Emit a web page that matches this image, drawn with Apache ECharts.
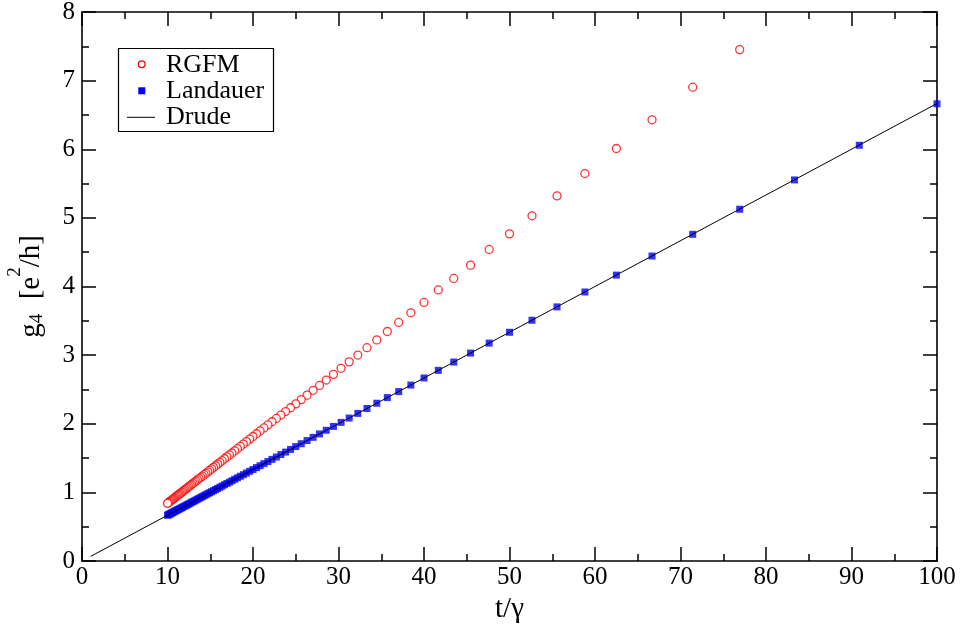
<!DOCTYPE html>
<html>
<head>
<meta charset="utf-8">
<title>g4 vs t/γ</title>
<script src="https://cdn.jsdelivr.net/npm/echarts@6/dist/echarts.min.js"></script>
<style>
  html, body { margin: 0; padding: 0; background: #fff; }
  #chart { width: 964px; height: 628px; }
</style>
</head>
<body>
<div id="chart"></div>
<script>
// t/γ sample points (γ = 0.010 ... 0.100)
const tOverGamma = [
  100.00, 90.91, 83.33, 76.92, 71.43, 66.67, 62.50, 58.82, 55.56, 52.63,
  50.00, 47.62, 45.45, 43.48, 41.67, 40.00, 38.46, 37.04, 35.71, 34.48,
  33.33, 32.26, 31.25, 30.30, 29.41, 28.57, 27.78, 27.03, 26.32, 25.64,
  25.00, 24.39, 23.81, 23.26, 22.73, 22.22, 21.74, 21.28, 20.83, 20.41,
  20.00, 19.61, 19.23, 18.87, 18.52, 18.18, 17.86, 17.54, 17.24, 16.95,
  16.67, 16.39, 16.13, 15.87, 15.63, 15.38, 15.15, 14.93, 14.71, 14.49,
  14.29, 14.08, 13.89, 13.70, 13.51, 13.33, 13.16, 12.99, 12.82, 12.66,
  12.50, 12.35, 12.20, 12.05, 11.90, 11.76, 11.63, 11.49, 11.36, 11.24,
  11.11, 10.99, 10.87, 10.75, 10.64, 10.53, 10.42, 10.31, 10.20, 10.10,
  10.00
];

// Landauer conductance, one value per t/γ point
const landauer = [
  6.662, 6.058, 5.553, 5.126, 4.760, 4.444, 4.166, 3.920, 3.703, 3.508,
  3.333, 3.175, 3.030, 2.899, 2.778, 2.667, 2.564, 2.469, 2.381, 2.299,
  2.222, 2.151, 2.083, 2.020, 1.961, 1.905, 1.852, 1.802, 1.755, 1.709,
  1.667, 1.626, 1.587, 1.551, 1.515, 1.481, 1.449, 1.419, 1.389, 1.361,
  1.333, 1.307, 1.282, 1.258, 1.235, 1.212, 1.191, 1.169, 1.149, 1.130,
  1.111, 1.093, 1.075, 1.058, 1.042, 1.025, 1.010, 0.995, 0.981, 0.966,
  0.953, 0.939, 0.926, 0.913, 0.901, 0.889, 0.877, 0.866, 0.855, 0.844,
  0.833, 0.823, 0.813, 0.803, 0.793, 0.784, 0.775, 0.766, 0.757, 0.749,
  0.741, 0.733, 0.725, 0.717, 0.709, 0.702, 0.695, 0.687, 0.680, 0.673,
  0.667
];

// RGFM conductance, starting at t/γ = 76.92 (fourth point)
const rgfmStart = 3;
const rgfm = [
  7.452, 6.904, 6.429, 6.011, 5.646, 5.321, 5.030, 4.767, 4.540, 4.311,
  4.117, 3.950, 3.768, 3.617, 3.476, 3.344, 3.222, 3.108, 3.001, 2.902,
  2.808, 2.720, 2.637, 2.558, 2.487, 2.417, 2.352, 2.290, 2.233, 2.178,
  2.127, 2.077, 2.029, 1.984, 1.939, 1.895, 1.854, 1.814, 1.776, 1.739,
  1.704, 1.670, 1.637, 1.606, 1.574, 1.545, 1.517, 1.490, 1.462, 1.437,
  1.412, 1.388, 1.364, 1.342, 1.320, 1.299, 1.278, 1.258, 1.238, 1.219,
  1.201, 1.183, 1.165, 1.148, 1.132, 1.115, 1.100, 1.084, 1.069, 1.055,
  1.040, 1.025, 1.012, 0.999, 0.985, 0.973, 0.961, 0.948, 0.937, 0.925,
  0.913, 0.902, 0.892, 0.881, 0.870, 0.859, 0.850, 0.840
];

// Drude line end points
const drudeX = [1, 100];
const drudeY = [0.0667, 6.667];

const xTicks = { min: 0, max: 100, step: 10 };
const yTicks = { min: 0, max: 8, step: 1 };

const serif = "'Liberation Serif', 'Times New Roman', 'DejaVu Serif', serif";

const landauerData = tOverGamma.map((x, i) => [x, landauer[i]]);
const rgfmData = rgfm.map((y, i) => [tOverGamma[i + rgfmStart], y]);
const drudeData = drudeX.map((x, i) => [x, drudeY[i]]);

const frameLine = { lineStyle: { color: '#000', width: 1.6 } };
const tick = { show: true, inside: true, length: 14, lineStyle: { color: '#000', width: 1.5 } };
const minor = { show: true, splitNumber: 2, length: 7, lineStyle: { color: '#000', width: 1.5 } };

function xAxisCfg(pos, labels) {
  return {
    type: 'value', position: pos,
    min: xTicks.min, max: xTicks.max, interval: xTicks.step,
    axisLine: { show: true, onZero: false, ...frameLine },
    axisTick: tick, minorTick: minor,
    splitLine: { show: false },
    axisLabel: labels
      ? { show: true, color: '#000', fontFamily: serif, fontSize: 25, margin: 4 }
      : { show: false }
  };
}
function yAxisCfg(pos, labels) {
  return {
    type: 'value', position: pos,
    min: yTicks.min, max: yTicks.max, interval: yTicks.step,
    axisLine: { show: true, onZero: false, ...frameLine },
    axisTick: tick, minorTick: minor,
    splitLine: { show: false },
    axisLabel: labels
      ? { show: true, color: '#000', fontFamily: serif, fontSize: 25, margin: 7 }
      : { show: false }
  };
}

const xBottom = xAxisCfg('bottom', true);
xBottom.name = 't/γ';
xBottom.nameLocation = 'middle';
xBottom.nameGap = 34;
xBottom.nameTextStyle = { color: '#000', fontFamily: serif, fontSize: 29 };

// g4 with subscript, [e²/h] with superscript; the padding shifts the small digits
const yLeft = yAxisCfg('left', true);
yLeft.name = '{m|g}{sub|4}{m|  [e}{sup|2}{m|/h]}';
yLeft.nameLocation = 'middle';
yLeft.nameGap = 36;
yLeft.nameMoveOverlap = false;
yLeft.nameTextStyle = {
  color: '#000', fontFamily: serif, fontSize: 29, lineHeight: 29,
  rich: {
    m: { fontFamily: serif, fontSize: 29, color: '#000', lineHeight: 29, verticalAlign: 'middle' },
    sub: { fontFamily: serif, fontSize: 19, color: '#000', lineHeight: 29, verticalAlign: 'middle', padding: [12, 0, 0, 0] },
    sup: { fontFamily: serif, fontSize: 19, color: '#000', lineHeight: 29, verticalAlign: 'middle', padding: [0, 0, 32, 0] }
  }
};

const legendFont = { fontFamily: serif, fontSize: 26, fill: '#000', verticalAlign: 'middle', align: 'left' };

const chart = echarts.init(document.getElementById('chart'), null, { renderer: 'canvas' });
chart.setOption({
  backgroundColor: '#fff',
  animation: false,
  grid: { left: 82, right: 27, top: 12, bottom: 67, containLabel: false, outerBoundsMode: 'none' },
  xAxis: [xBottom, xAxisCfg('top', false)],
  yAxis: [yLeft, yAxisCfg('right', false)],
  series: [
    {
      name: 'RGFM', type: 'scatter', xAxisIndex: 0, yAxisIndex: 0,
      data: rgfmData, symbol: 'circle', symbolSize: 8,
      itemStyle: { color: '#fff', borderColor: '#ff0000', borderWidth: 1.3 },
      z: 2
    },
    {
      name: 'Landauer', type: 'scatter', xAxisIndex: 0, yAxisIndex: 0,
      data: landauerData, symbol: 'rect', symbolSize: 7,
      itemStyle: { color: '#0000ff' },
      z: 3
    },
    {
      name: 'Drude', type: 'line', xAxisIndex: 0, yAxisIndex: 0,
      data: drudeData, symbol: 'none',
      lineStyle: { color: '#000', width: 1 },
      z: 4
    }
  ],
  graphic: [
    { type: 'rect', shape: { x: 118.5, y: 48.5, width: 155, height: 83 },
      style: { fill: '#fff', stroke: '#000', lineWidth: 1.2 }, z: 10 },
    { type: 'circle', shape: { cx: 141.7, cy: 64.3, r: 3.4 },
      style: { fill: '#fff', stroke: '#ff0000', lineWidth: 1.3 }, z: 11 },
    { type: 'rect', shape: { x: 138.3, y: 87.3, width: 7, height: 7 },
      style: { fill: '#0000ff' }, z: 11 },
    { type: 'line', shape: { x1: 127, y1: 117.3, x2: 155, y2: 117.3 },
      style: { stroke: '#000', lineWidth: 1 }, z: 11 },
    { type: 'text', x: 166, y: 65, style: { text: 'RGFM', ...legendFont }, z: 11 },
    { type: 'text', x: 166, y: 91, style: { text: 'Landauer', ...legendFont }, z: 11 },
    { type: 'text', x: 166, y: 117, style: { text: 'Drude', ...legendFont }, z: 11 }
  ]
});
</script>
</body>
</html>
